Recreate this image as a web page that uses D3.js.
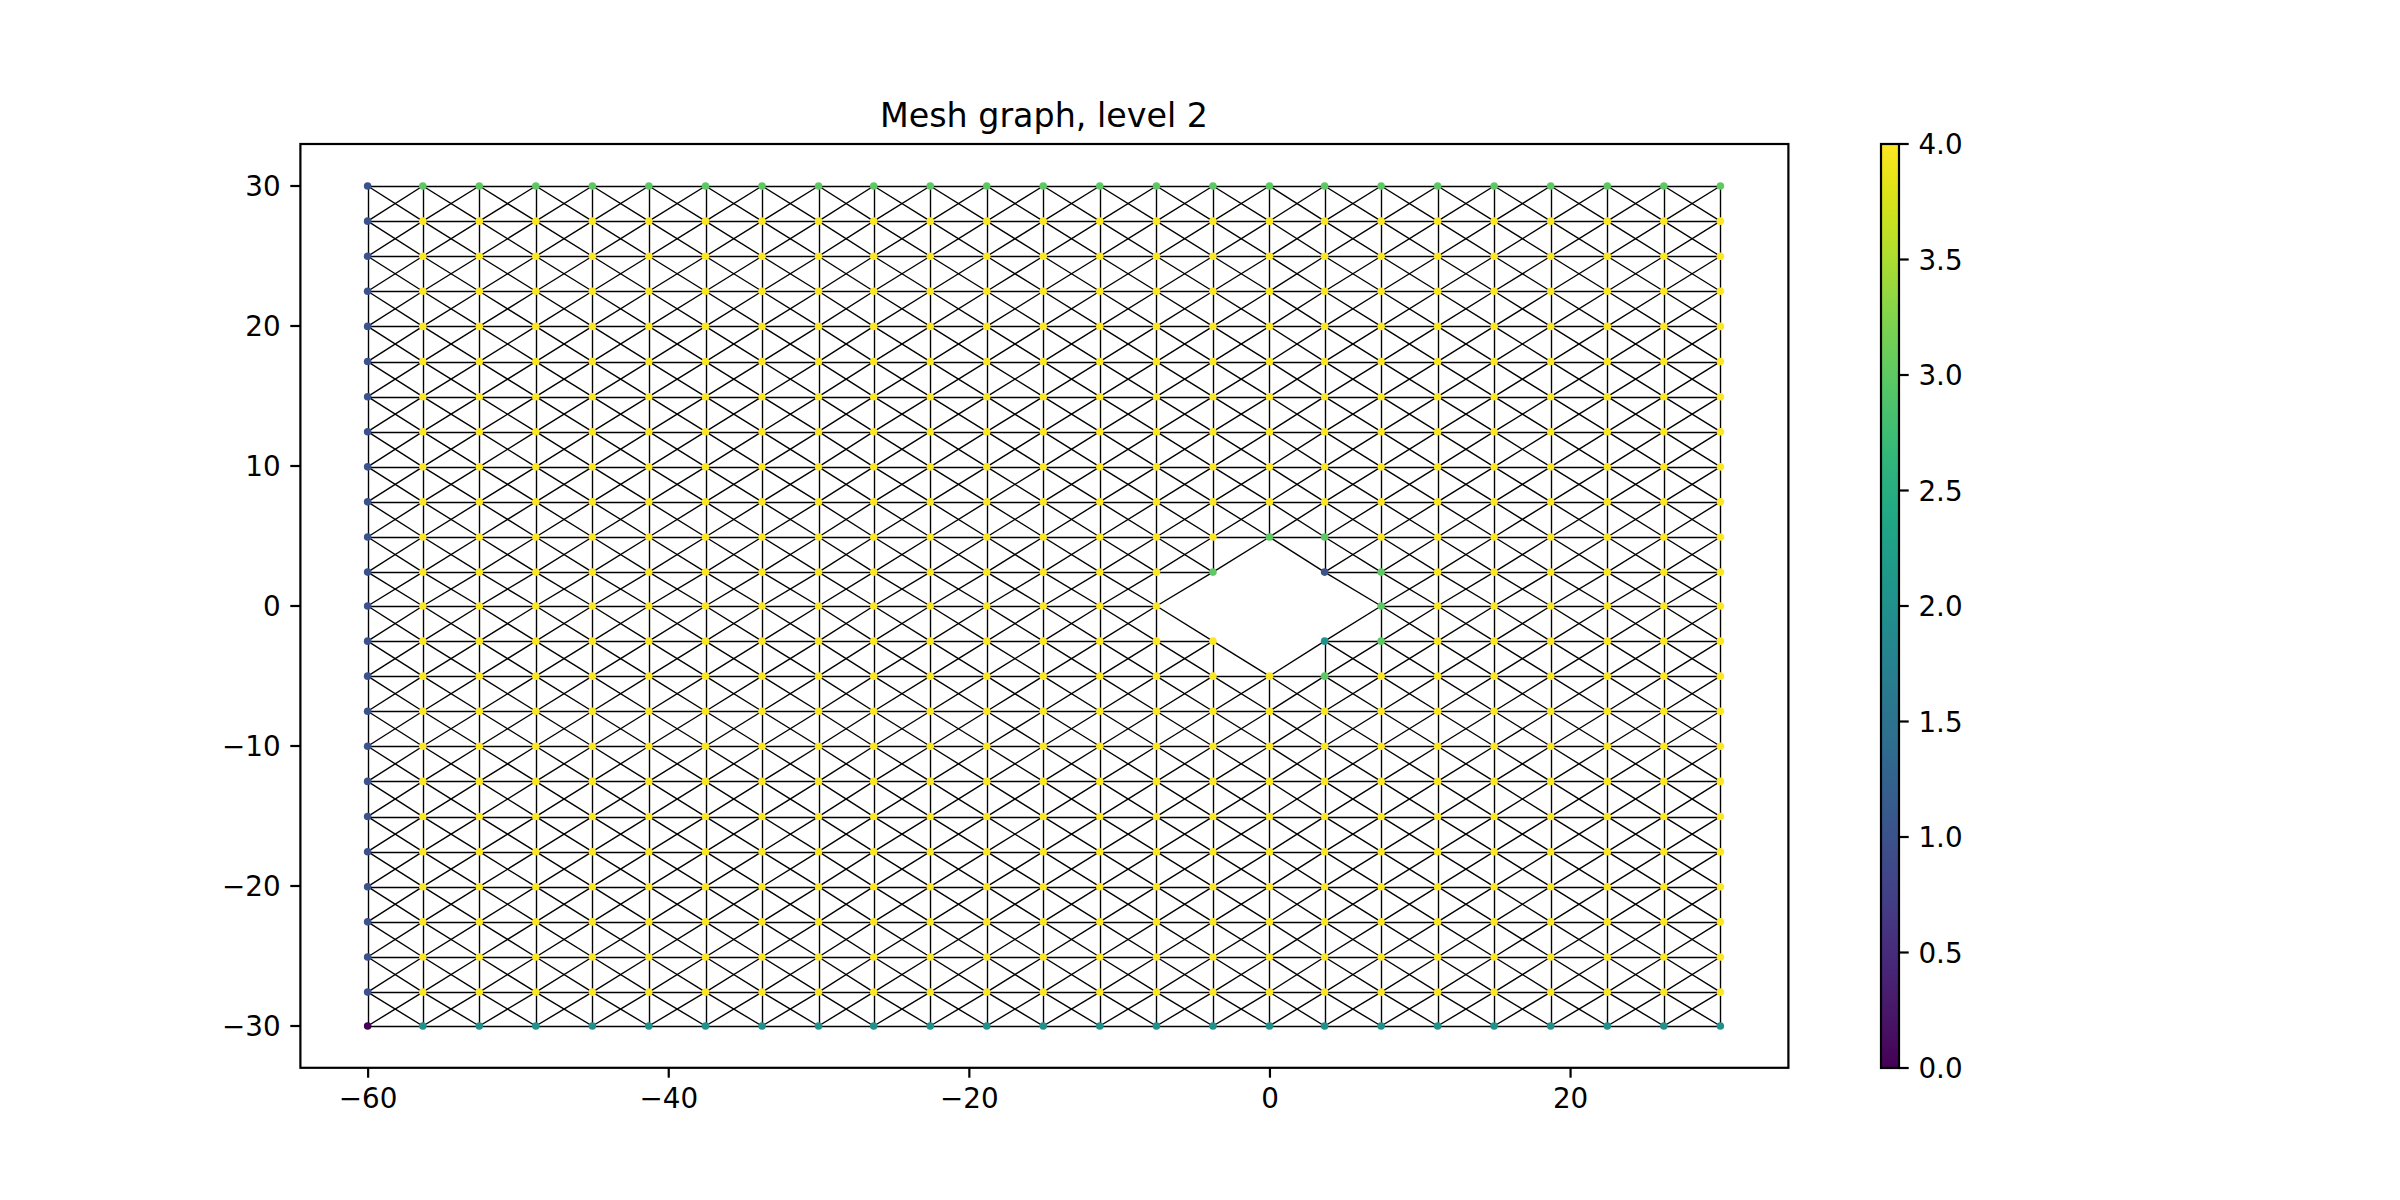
<!DOCTYPE html>
<html>
<head>
    <meta charset="utf-8">
    <style>
        body { margin: 0; background: #fff; }
        svg { display: block; }
        text { font-family: "DejaVu Sans", sans-serif; fill: #000; }
        .tick text { font-size: 27.78px; }
        .title { font-size: 33.33px; text-anchor: middle; }
        .domain { display: none; }
        .tick line { stroke: #000; stroke-width: 2.2px; }
    </style>
    <script src="https://d3js.org/d3.v7.min.js"></script>
</head>
<body>
    <svg width="2400" height="1200"></svg>

    <script>
        var titleText = "Mesh graph, level 2";

        // node positions, the first step of each block is a bit shorter
        var lons = [-60, -56.33, -52.57, -48.81, -45.05, -41.29, -37.52, -33.76, -30, -26.33, -22.57, -18.81, -15.05,
                    -11.29, -7.52, -3.76, 0, 3.67, 7.43, 11.19, 14.95, 18.71, 22.48, 26.24, 30];
        var lats = [30, 27.49, 24.98, 22.48, 19.97, 17.46, 14.95, 12.45, 9.94, 7.44, 4.93, 2.42, 0,
                    -2.51, -5.01, -7.52, -10.02, -12.53, -15.04, -17.55, -20.05, -22.56, -25.07, -27.58, -30];

        // colour value per node, one row per lat, null = no node (the hole)
        var n = null;
        var nodeValues = [
            [1,3,3,3,3,3,3,3,3,3,3,3,3,3,3,3,3,3,3,3,3,3,3,3,3],
            [1,4,4,4,4,4,4,4,4,4,4,4,4,4,4,4,4,4,4,4,4,4,4,4,4],
            [1,4,4,4,4,4,4,4,4,4,4,4,4,4,4,4,4,4,4,4,4,4,4,4,4],
            [1,4,4,4,4,4,4,4,4,4,4,4,4,4,4,4,4,4,4,4,4,4,4,4,4],
            [1,4,4,4,4,4,4,4,4,4,4,4,4,4,4,4,4,4,4,4,4,4,4,4,4],
            [1,4,4,4,4,4,4,4,4,4,4,4,4,4,4,4,4,4,4,4,4,4,4,4,4],
            [1,4,4,4,4,4,4,4,4,4,4,4,4,4,4,4,4,4,4,4,4,4,4,4,4],
            [1,4,4,4,4,4,4,4,4,4,4,4,4,4,4,4,4,4,4,4,4,4,4,4,4],
            [1,4,4,4,4,4,4,4,4,4,4,4,4,4,4,4,4,4,4,4,4,4,4,4,4],
            [1,4,4,4,4,4,4,4,4,4,4,4,4,4,4,4,4,4,4,4,4,4,4,4,4],
            [1,4,4,4,4,4,4,4,4,4,4,4,4,4,4,4,3,3,4,4,4,4,4,4,4],
            [1,4,4,4,4,4,4,4,4,4,4,4,4,4,4,3,n,1,3,4,4,4,4,4,4],
            [1,4,4,4,4,4,4,4,4,4,4,4,4,4,4,n,n,n,3,4,4,4,4,4,4],
            [1,4,4,4,4,4,4,4,4,4,4,4,4,4,4,4,n,2,3,4,4,4,4,4,4],
            [1,4,4,4,4,4,4,4,4,4,4,4,4,4,4,4,4,3,4,4,4,4,4,4,4],
            [1,4,4,4,4,4,4,4,4,4,4,4,4,4,4,4,4,4,4,4,4,4,4,4,4],
            [1,4,4,4,4,4,4,4,4,4,4,4,4,4,4,4,4,4,4,4,4,4,4,4,4],
            [1,4,4,4,4,4,4,4,4,4,4,4,4,4,4,4,4,4,4,4,4,4,4,4,4],
            [1,4,4,4,4,4,4,4,4,4,4,4,4,4,4,4,4,4,4,4,4,4,4,4,4],
            [1,4,4,4,4,4,4,4,4,4,4,4,4,4,4,4,4,4,4,4,4,4,4,4,4],
            [1,4,4,4,4,4,4,4,4,4,4,4,4,4,4,4,4,4,4,4,4,4,4,4,4],
            [1,4,4,4,4,4,4,4,4,4,4,4,4,4,4,4,4,4,4,4,4,4,4,4,4],
            [1,4,4,4,4,4,4,4,4,4,4,4,4,4,4,4,4,4,4,4,4,4,4,4,4],
            [1,4,4,4,4,4,4,4,4,4,4,4,4,4,4,4,4,4,4,4,4,4,4,4,4],
            [0,2,2,2,2,2,2,2,2,2,2,2,2,2,2,2,2,2,2,2,2,2,2,2,2]
        ];

        var xTicks = [-60, -40, -20, 0, 20];
        var yTicks = [-30, -20, -10, 0, 10, 20, 30];
        var colorTicks = [0, 0.5, 1, 1.5, 2, 2.5, 3, 3.5, 4];

        var svg = d3.select("svg");

        // axes box, same fractions matplotlib gives a 12x6 figure at dpi 200
        var left = 300, right = 1788, top_ = 144, bottom = 1068;
        var barLeft = 1881, barRight = 1899;

        var x = d3.scaleLinear().domain([-64.5, 34.5]).range([left, right]);
        var y = d3.scaleLinear().domain([-33, 33]).range([bottom, top_]);
        var c = d3.scaleLinear().domain([0, 4]).range([bottom, top_]);

        // horizontal and vertical edges sit on whole pixels, like matplotlib snapping
        var snap = function(v) { return Math.round(v) + 0.5; };

        // flatten to nodes
        var nodes = [];
        nodeValues.forEach(function(row, j) {
            row.forEach(function(v, i) {
                if (v !== null) nodes.push({i: i, j: j, lon: lons[i], lat: lats[j], value: v});
            });
        });

        // edges join each node to its 8 neighbours when both exist
        var edges = [];
        var steps = [[1, 0], [0, 1], [1, 1], [1, -1]];
        nodes.forEach(function(a) {
            steps.forEach(function(s) {
                var row = nodeValues[a.j + s[1]];
                var i2 = a.i + s[0], j2 = a.j + s[1];
                if (row && row[i2] !== undefined && row[i2] !== null) {
                    var x1 = x(a.lon), y1 = y(a.lat), x2 = x(lons[i2]), y2 = y(lats[j2]);
                    if (s[0] === 0) { x1 = x2 = snap(x1); }
                    if (s[1] === 0) { y1 = y2 = snap(y1); }
                    edges.push({x1: x1, y1: y1, x2: x2, y2: y2});
                }
            });
        });

        svg.append("g").selectAll("line")
            .data(edges)
            .enter().append("line")
            .attr("x1", function(d) { return d.x1; })
            .attr("y1", function(d) { return d.y1; })
            .attr("x2", function(d) { return d.x2; })
            .attr("y2", function(d) { return d.y2; })
            .attr("stroke", "#000")
            .attr("stroke-width", 1.39);

        svg.append("g").selectAll("circle")
            .data(nodes)
            .enter().append("circle")
            .attr("cx", function(d) { return x(d.lon); })
            .attr("cy", function(d) { return y(d.lat); })
            .attr("r", 3.8)
            .attr("fill", function(d) { return d3.interpolateViridis(d.value / 4); });

        // frame
        svg.append("rect")
            .attr("x", left + 0.4).attr("y", top_)
            .attr("width", right - left).attr("height", bottom - top_ - 0.2)
            .attr("fill", "none").attr("stroke", "#000").attr("stroke-width", 2.2);

        var xAxis = svg.append("g")
            .attr("transform", "translate(0," + bottom + ")")
            .call(d3.axisBottom(x).tickValues(xTicks).tickSizeOuter(0).tickSize(9.7).tickPadding(9.7)
                .offset(0.5).tickFormat(d3.format("d")));
        xAxis.selectAll("text").attr("dy", "20.6px");

        var yAxis = svg.append("g")
            .attr("transform", "translate(" + left + ",0)")
            .call(d3.axisLeft(y).tickValues(yTicks).tickSizeOuter(0).tickSize(9.7).tickPadding(9.7)
                .offset(0).tickFormat(d3.format("d")));
        yAxis.selectAll("text").attr("dy", "10.2px");

        svg.append("text")
            .attr("class", "title")
            .attr("x", (left + right) / 2)
            .attr("y", 127)
            .text(titleText);

        // colorbar
        var defs = svg.append("defs");
        var grad = defs.append("linearGradient")
            .attr("id", "viridis")
            .attr("x1", 0).attr("y1", 1).attr("x2", 0).attr("y2", 0);
        d3.range(0, 1.0001, 0.02).forEach(function(t) {
            grad.append("stop")
                .attr("offset", t)
                .attr("stop-color", d3.interpolateViridis(t));
        });

        svg.append("rect")
            .attr("x", barLeft).attr("y", top_)
            .attr("width", barRight - barLeft).attr("height", bottom - top_)
            .attr("fill", "url(#viridis)")
            .attr("stroke", "#000").attr("stroke-width", 2.2);

        var colorAxis = svg.append("g")
            .attr("transform", "translate(" + barRight + ",0)")
            .call(d3.axisRight(c).tickValues(colorTicks).tickSizeOuter(0).tickSize(9.7).tickPadding(9.7)
                .offset(0).tickFormat(d3.format(".1f")));
        colorAxis.selectAll("text").attr("dy", "10.2px");
    </script>
</body>
</html>
